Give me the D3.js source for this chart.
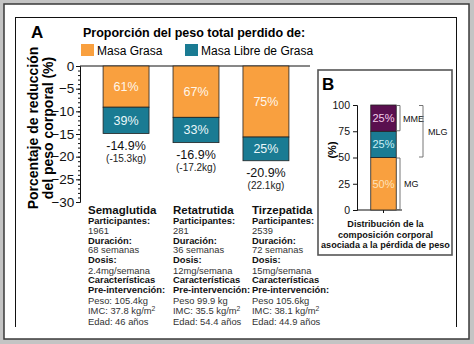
<!DOCTYPE html>
<html>
<head>
<meta charset="utf-8">
<script src="https://cdn.jsdelivr.net/npm/d3@7"></script>
<style>
  body { margin: 0; background: #c4c4c4; }
  svg { display: block; font-family: "Liberation Sans", Arial, sans-serif; }
</style>
</head>
<body>
<svg id="chart" width="474" height="344"></svg>
<script>
// Panel A data
const drugs = ["Semaglutida", "Retatrutida", "Tirzepatida"];
const totalLoss = [-14.9, -16.9, -20.9];
const fatPct = [61, 67, 75];
const leanPct = [39, 33, 25];
const kgLost = ["(-15.3kg)", "(-17.2kg)", "(22.1kg)"];
const participants = ["1961", "281", "2539"];
const duration = ["68 semanas", "36 semanas", "72 semanas"];
const dose = ["2.4mg/semana", "12mg/semana", "15mg/semana"];
const weight = ["Peso: 105.4kg", "Peso 99.9 kg", "Peso 105.6kg"];
const bmi = ["37.8", "35.5", "38.1"];
const age = ["Edad: 46 años", "Edad: 54.4 años", "Edad: 44.9 años"];
const ticksA = [0, -5, -10, -15, -20, -25, -30];

// Panel B data
const compNames = ["MG", "MLG-agua", "MME"];
const compValues = [50, 25, 25];
const ticksB = [0, 25, 50, 75, 100];

const orange = "#f9a03f", teal = "#1a7b93", purple = "#5a0f4f";

const svg = d3.select("#chart");

// outer frame
svg.append("rect").attr("x", 4).attr("y", 4).attr("width", 465).attr("height", 335)
  .attr("fill", "#fff").attr("stroke", "#3a3a3a").attr("stroke-width", 1.5);

// clip for the inner panel (bottom is cut off)
svg.append("defs").append("clipPath").attr("id", "panelClip")
  .append("rect").attr("x", 0).attr("y", 0).attr("width", 474).attr("height", 327);

const panel = svg.append("g").attr("clip-path", "url(#panelClip)");
panel.append("rect").attr("x", 15.5).attr("y", 17.5).attr("width", 441).attr("height", 320)
  .attr("fill", "none").attr("stroke", "#111").attr("stroke-width", 1);

// ---------- Panel A ----------
const y = d3.scaleLinear().domain([0, -30]).range([66, 202]);
const x = d3.scaleBand().domain(drugs).range([80, 312]).paddingInner(0.343).paddingOuter(0.33);

panel.append("text").attr("x", 31).attr("y", 38).attr("font-size", 17).attr("font-weight", "bold").text("A");
panel.append("text").attr("x", 83).attr("y", 37).attr("font-size", 12.5).attr("font-weight", "bold")
  .text("Proporción del peso total perdido de:");

const legend = [{ name: "Masa Grasa", color: orange, x: 81 }, { name: "Masa Libre de Grasa", color: teal, x: 185 }];
legend.forEach(function (d) {
  panel.append("rect").attr("x", d.x).attr("y", 44).attr("width", 13).attr("height", 12).attr("fill", d.color);
  panel.append("text").attr("x", d.x + 16).attr("y", 54.5).attr("font-size", 12).text(d.name);
});

// y axis with minor ticks
const axisA = panel.append("g").attr("transform", "translate(80,0)");
axisA.call(d3.axisLeft(y).tickValues(d3.range(0, -31, -1)).tickSize(2).tickFormat(""));
axisA.append("g").call(d3.axisLeft(y).tickValues(ticksA).tickSize(4).tickFormat(d3.format("d")))
  .call(g => g.select(".domain").remove())
  .selectAll("text").attr("font-size", 13.5).attr("font-family", "Liberation Sans, Arial").attr("fill", "#111").attr("dx", "0.1em");
axisA.selectAll("path, line").attr("stroke", "#111");

// zero line
panel.append("line").attr("x1", 80).attr("x2", 310).attr("y1", y(0)).attr("y2", y(0)).attr("stroke", "#111");

const yLabel = panel.append("text").attr("transform", "translate(38,128) rotate(-90)")
  .attr("text-anchor", "middle").attr("font-size", 14).attr("font-weight", "bold");
yLabel.append("tspan").attr("x", 0).attr("dy", 0).text("Porcentaje de reducción");
yLabel.append("tspan").attr("x", 0).attr("dy", 14.5).text("del peso corporal (%)");

const rows = drugs.map(function (d, i) {
  const fatEnd = totalLoss[i] * fatPct[i] / 100;
  return { drug: d, i: i, fatEnd: fatEnd, total: totalLoss[i] };
});

const bars = panel.selectAll(".bar").data(rows).enter().append("g");
bars.append("rect").attr("x", d => x(d.drug)).attr("width", x.bandwidth())
  .attr("y", y(0)).attr("height", d => y(d.fatEnd) - y(0))
  .attr("fill", orange).attr("stroke", "#222").attr("stroke-width", 0.8);
bars.append("rect").attr("x", d => x(d.drug)).attr("width", x.bandwidth())
  .attr("y", d => y(d.fatEnd)).attr("height", d => y(d.total) - y(d.fatEnd))
  .attr("fill", teal).attr("stroke", "#222").attr("stroke-width", 0.8);

bars.append("text").attr("x", d => x(d.drug) + x.bandwidth() / 2)
  .attr("y", d => (y(0) + y(d.fatEnd)) / 2 + 4.5).attr("text-anchor", "middle")
  .attr("font-size", 12.5).attr("fill", "#fff6ea").text(d => fatPct[d.i] + "%");
bars.append("text").attr("x", d => x(d.drug) + x.bandwidth() / 2)
  .attr("y", d => (y(d.fatEnd) + y(d.total)) / 2 + 4.5).attr("text-anchor", "middle")
  .attr("font-size", 12.5).attr("fill", "#eaf7fa").text(d => leanPct[d.i] + "%");

bars.append("text").attr("x", d => x(d.drug) + x.bandwidth() / 2)
  .attr("y", d => y(d.total) + 16).attr("text-anchor", "middle")
  .attr("font-size", 12.5).attr("fill", "#111").text(d => d.total.toFixed(1) + "%");
bars.append("text").attr("x", d => x(d.drug) + x.bandwidth() / 2)
  .attr("y", d => y(d.total) + 28).attr("text-anchor", "middle")
  .attr("font-size", 10).attr("fill", "#222").text(d => kgLost[d.i]);

// study details below the bars
const detailX = [88, 173, 252];
const lineY = [214, 224, 233.5, 243.5, 253, 263, 273.5, 283, 292.5, 303.5, 314, 325];
drugs.forEach(function (d, i) {
  const lines = [
    { t: d, b: true, s: 11.5 },
    { t: "Participantes:", b: true },
    { t: participants[i] },
    { t: "Duración:", b: true },
    { t: duration[i] },
    { t: "Dosis:", b: true },
    { t: dose[i] },
    { t: "Características", b: true },
    { t: "Pre-intervención:", b: true },
    { t: weight[i] },
    { t: "IMC: " + bmi[i] + " kg/m", sup: "2" },
    { t: age[i] }
  ];
  lines.forEach(function (l, k) {
    const t = panel.append("text").attr("x", detailX[i]).attr("y", lineY[k])
      .attr("font-size", l.s || 9.4).attr("font-weight", l.b ? "bold" : "normal")
      .attr("fill", l.b ? "#111" : "#333").text(l.t);
    if (l.sup) t.append("tspan").attr("dy", -3.5).attr("font-size", 6.8).text(l.sup);
  });
});

// ---------- Panel B ----------
const gB = panel.append("g");
gB.append("rect").attr("x", 318).attr("y", 70).attr("width", 134).attr("height", 185)
  .attr("fill", "#fff").attr("stroke", "#555").attr("stroke-width", 1.6);
gB.append("text").attr("x", 322).attr("y", 90).attr("font-size", 17).attr("font-weight", "bold").text("B");

const yB = d3.scaleLinear().domain([0, 100]).range([210, 105]);
const axisB = gB.append("g").attr("transform", "translate(357,0)")
  .call(d3.axisLeft(yB).tickValues(ticksB).tickSize(4));
axisB.selectAll("text").attr("font-size", 10.5).attr("font-family", "Liberation Sans, Arial").attr("fill", "#111");
axisB.selectAll("path, line").attr("stroke", "#111");

gB.append("line").attr("x1", 357).attr("x2", 402).attr("y1", yB(0)).attr("y2", yB(0)).attr("stroke", "#111");
gB.append("line").attr("x1", 383.5).attr("x2", 383.5).attr("y1", yB(0)).attr("y2", yB(0) + 3).attr("stroke", "#111");

gB.append("text").attr("transform", "translate(336,150) rotate(-90)").attr("text-anchor", "middle")
  .attr("font-size", 11).attr("font-weight", "bold").text("(%)");

const stack = [];
let acc = 0;
compValues.forEach(function (v, i) { stack.push({ name: compNames[i], v: v, y0: acc, y1: acc + v }); acc += v; });
const compColors = [orange, teal, purple];
const compText = ["#fde2b8", "#c9eef5", "#f2cde9"];

const xB = d3.scaleBand().domain(["comp"]).range([357, 410]).paddingInner(0.5).paddingOuter(0.27);
stack.forEach(function (s, i) {
  gB.append("rect").attr("x", xB("comp")).attr("width", xB.bandwidth())
    .attr("y", yB(s.y1)).attr("height", yB(s.y0) - yB(s.y1))
    .attr("fill", compColors[i]).attr("stroke", "#222").attr("stroke-width", 0.8);
  gB.append("text").attr("x", xB("comp") + xB.bandwidth() / 2).attr("y", (yB(s.y0) + yB(s.y1)) / 2 + 4)
    .attr("text-anchor", "middle").attr("font-size", 11).attr("fill", compText[i]).text(s.v + "%");
});

// brackets to the right of the stacked bar
function bracket(x0, v0, v1, label, lx) {
  const path = d3.path();
  path.moveTo(x0 - 4, yB(v1) + 0.5);
  path.lineTo(x0, yB(v1) + 0.5);
  path.lineTo(x0, yB(v0) - 0.5);
  path.lineTo(x0 - 4, yB(v0) - 0.5);
  gB.append("path").attr("d", path.toString()).attr("fill", "none").attr("stroke", "#666").attr("stroke-width", 0.9);
  gB.append("text").attr("x", lx).attr("y", (yB(v0) + yB(v1)) / 2 + 3.5)
    .attr("font-size", 9).attr("fill", "#111").text(label);
}
bracket(400, 75, 100, "MME", 403);
bracket(400, 0, 50, "MG", 404);
bracket(423, 50, 100, "MLG", 428);

const cap = gB.append("text").attr("text-anchor", "middle").attr("font-size", 9.1).attr("font-weight", "bold").attr("fill", "#111");
["Distribución de la", "composición corporal", "asociada a la pérdida de peso"].forEach(function (t, i) {
  cap.append("tspan").attr("x", 385.5).attr("y", 227 + i * 10.5).text(t);
});
</script>
</body>
</html>
